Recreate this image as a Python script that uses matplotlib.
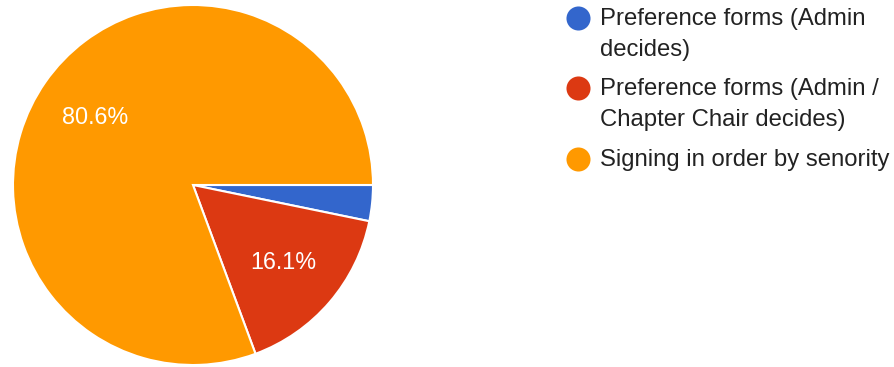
import matplotlib.pyplot as plt

labels = ['Preference forms (Admin\ndecides)',
          'Preference forms (Admin /\nChapter Chair decides)',
          'Signing in order by senority']
counts = [1, 5, 25]
colors = ['#3366cc', '#dc3912', '#ff9900']

W, H = 895, 367
plt.rcParams['font.family'] = ['Liberation Sans', 'DejaVu Sans']

fig = plt.figure(figsize=(W / 100, H / 100), dpi=100)

# pie: center (193, 185), radius 180 px
cx, cy, r = 193, 185, 180
ax = fig.add_axes([(cx - r) / W, (H - cy - r) / H, 2 * r / W, 2 * r / H])


def pct(p):
    return f'{p:.1f}%' if p > 5 else ''


wedges, texts, autotexts = ax.pie(counts, colors=colors, startangle=0, counterclock=False,
                                  autopct=pct, pctdistance=0.66,
                                  wedgeprops={'edgecolor': 'white', 'linewidth': 1.5})
for t in autotexts:
    t.set_color('white')
    t.set_fontsize(16.8)
ax.set_xlim(-1, 1)
ax.set_ylim(-1, 1)
ax.set_aspect('equal')

# legend drawn by hand in pixel coords
lax = fig.add_axes([0, 0, 1, 1])
lax.set_xlim(0, W)
lax.set_ylim(H, 0)
lax.axis('off')
entry_y = [18, 88, 159]
line_h = 31
for lab, col, y0 in zip(labels, colors, entry_y):
    lax.scatter([578], [y0], s=300, color=col, linewidths=0, zorder=3)
    for i, line in enumerate(lab.split('\n')):
        lax.text(600, y0 + i * line_h + 1, line, fontsize=17.2, color='#222222', va='center', ha='left')

fig.savefig('out.png', dpi=100)
